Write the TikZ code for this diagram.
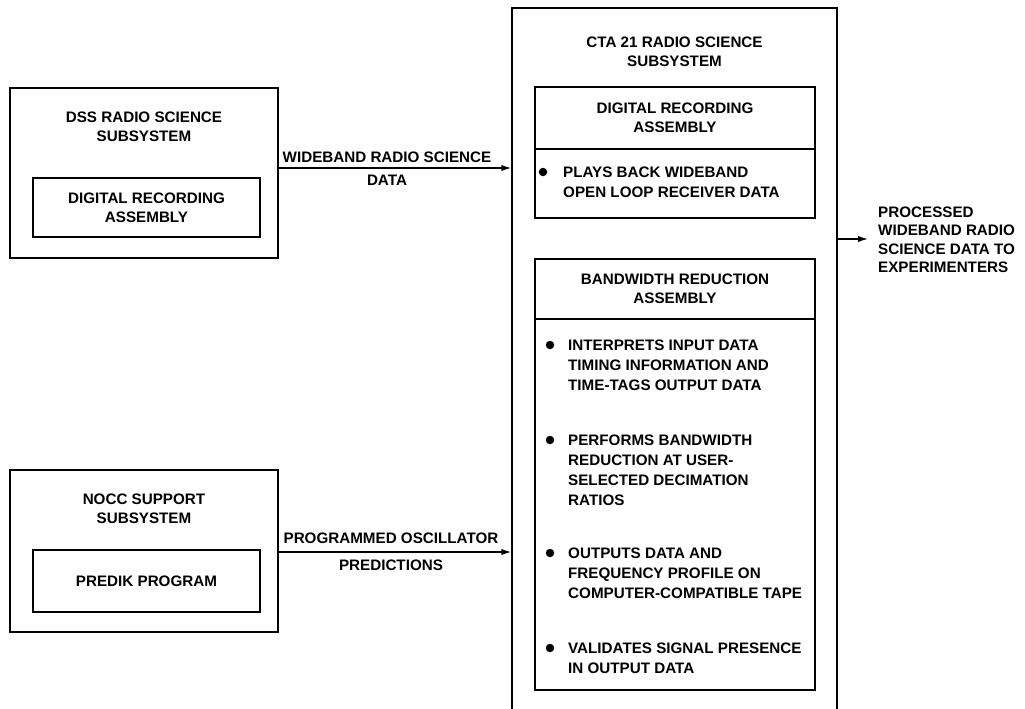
\documentclass[tikz,border=0pt]{standalone}
\usepackage{fontspec}
\setmainfont{Liberation Sans}
\usetikzlibrary{arrows.meta}
\begin{document}
\begin{tikzpicture}[x=1pt,y=-1pt,
  box/.style={draw, line width=1.5pt, inner sep=0pt},
  txt/.style={font=\fontsize{15.2}{19}\selectfont\bfseries, align=center, inner sep=0pt},
  ltxt/.style={font=\fontsize{15.2}{20}\selectfont\bfseries, align=left, inner sep=0pt, anchor=west},
  arr/.style={line width=1.5pt, -{Latex[length=10pt,width=6.5pt]}},
  dot/.style={fill, circle, inner sep=0pt, minimum size=8.5pt}]
\useasboundingbox (0,0) rectangle (1025,709);
\fill[white] (0,0) rectangle (1025,709);

% DSS subsystem
\node[box, minimum width=268pt, minimum height=170pt] (dss) at (144,173) {};
\node[txt] (dsst) at (144,127) {DSS RADIO SCIENCE\\SUBSYSTEM};
\node[box, txt, minimum width=227pt, minimum height=59pt] (dssdra) at (146.5,207.5) {DIGITAL RECORDING\\ASSEMBLY};

% NOCC subsystem
\node[box, minimum width=268pt, minimum height=162pt] (nocc) at (144,551) {};
\node[txt] (nocct) at (144,509) {NOCC SUPPORT\\SUBSYSTEM};
\node[box, txt, minimum width=227pt, minimum height=62pt] (predik) at (146.5,581) {PREDIK PROGRAM};

% CTA 21 subsystem
\node[box, minimum width=325pt, minimum height=720pt] (cta) at (674.5,368) {};
\node[txt] (ctat) at (674.5,52) {CTA 21 RADIO SCIENCE\\SUBSYSTEM};

\node[box, txt, minimum width=280pt, minimum height=62pt] (dra) at (675,118) {DIGITAL RECORDING\\ASSEMBLY};
\node[box, minimum width=280pt, minimum height=69pt] (drab) at (675,183.5) {};
\node[dot] (d0) at (543,172) {};
\node[ltxt] (i0) at (563,182.5) {PLAYS BACK WIDEBAND\\OPEN LOOP RECEIVER DATA};

\node[box, txt, minimum width=280pt, minimum height=60pt] (bra) at (675,289) {BANDWIDTH REDUCTION\\ASSEMBLY};
\node[box, minimum width=280pt, minimum height=371pt] (brab) at (675,504.5) {};
\node[dot] (d1) at (550,345) {};
\node[ltxt] (i1) at (568,365) {INTERPRETS INPUT DATA\\TIMING INFORMATION AND\\TIME-TAGS OUTPUT DATA};
\node[dot] (d2) at (550,440) {};
\node[ltxt] (i2) at (568,470) {PERFORMS BANDWIDTH\\REDUCTION AT USER-\\SELECTED DECIMATION\\RATIOS};
\node[dot] (d3) at (550,553) {};
\node[ltxt] (i3) at (568,573) {OUTPUTS DATA AND\\FREQUENCY PROFILE ON\\COMPUTER-COMPATIBLE TAPE};
\node[dot] (d4) at (550,648) {};
\node[ltxt] (i4) at (568,658) {VALIDATES SIGNAL PRESENCE\\IN OUTPUT DATA};

% connectors
\coordinate (w1) at (0,168);
\draw[arr] (dss.east |- w1) -- (cta.west |- w1);
\node[txt] (wl1) at (387,157) {WIDEBAND RADIO SCIENCE};
\node[txt] (wl2) at (387,180) {DATA};

\coordinate (w2) at (0,552);
\draw[arr] (nocc.east |- w2) -- (cta.west |- w2);
\node[txt] (pl1) at (391,538) {PROGRAMMED OSCILLATOR};
\node[txt] (pl2) at (391,565) {PREDICTIONS};

\coordinate (outend) at (868,239);
\draw[arr] (cta.east |- outend) -- (outend);
\node[ltxt, font=\fontsize{15.2}{18.5}\selectfont\bfseries] (outt) at (878,240) {PROCESSED\\WIDEBAND RADIO\\SCIENCE DATA TO\\EXPERIMENTERS};
\end{tikzpicture}
\end{document}
